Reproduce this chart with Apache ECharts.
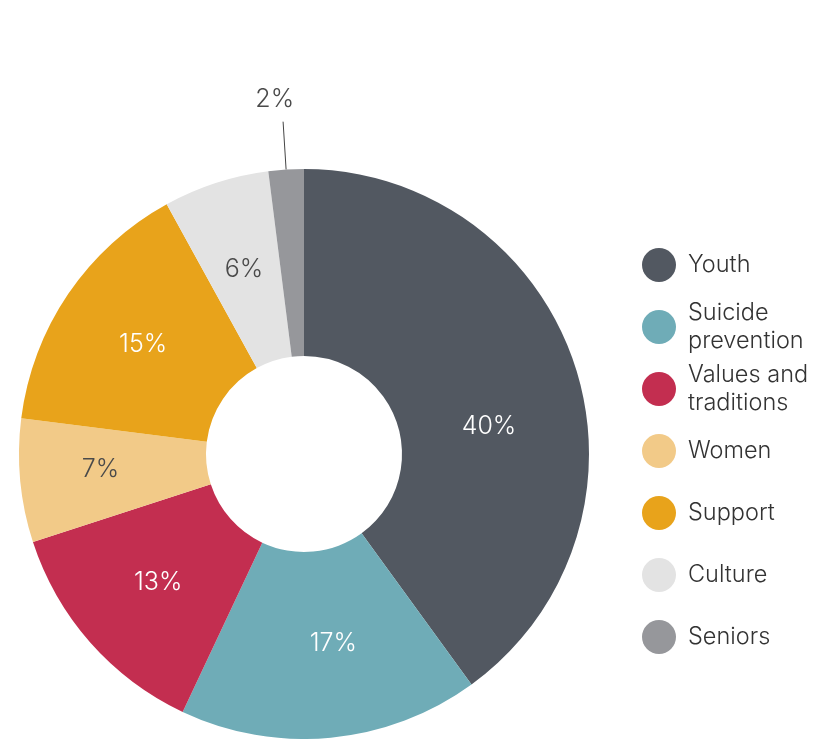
<!DOCTYPE html>
<html>
<head>
<meta charset="utf-8">
<script src="https://cdn.jsdelivr.net/npm/echarts@6/dist/echarts.min.js"></script>
<style>
  html, body { margin: 0; padding: 0; background: #fff; }
  #chart { width: 836px; height: 739px; }
</style>
</head>
<body>
<div id="chart"></div>
<script>
var categories = ['Youth', 'Suicide\nprevention', 'Values and\ntraditions', 'Women', 'Support', 'Culture', 'Seniors']
var values = [40, 17, 13, 7, 15, 6, 2]

var colors = ['#525861', '#6FACB7', '#C32E50', '#F2CA88', '#E8A31B', '#E3E3E3', '#96979B']
var darkText = ['Women', 'Culture', 'Seniors']

var myChart = echarts.init(document.getElementById('chart'))

var pieData = categories.map(function (name, i) {
  var item = {
    name: name,
    value: values[i],
    itemStyle: { color: colors[i] },
    label: { color: darkText.indexOf(name) >= 0 ? '#4a4a4a' : '#ffffff' }
  }
  if (name === 'Seniors') {
    // 小扇区，标签放外面加引线
    item.label.position = 'outside'
    item.labelLine = { show: true, length: 48, length2: 0, lineStyle: { color: '#444', width: 1 } }
  }
  return item
})

var option = {
  animation: false,
  textStyle: { fontFamily: 'Inter, "Noto Sans", sans-serif' },
  legend: {
    orient: 'vertical',
    left: 642,
    top: 238,
    padding: 0,
    icon: 'circle',
    itemWidth: 34,
    itemHeight: 34,
    itemGap: 8,
    selectedMode: false,
    textStyle: {
      fontSize: 23.5,
      fontWeight: 300,
      lineHeight: 28,
      height: 54,
      verticalAlign: 'middle',
      color: '#333',
      padding: [0, 0, 0, 7]
    },
    data: categories
  },
  series: [
    {
      type: 'pie',
      center: [304, 454],
      radius: [98, 285],
      startAngle: 90,
      clockwise: true,
      avoidLabelOverlap: false,
      emphasis: { disabled: true },
      label: {
        show: true,
        position: 'inside',
        formatter: '{c}%',
        fontSize: 25,
        fontWeight: 300
      },
      labelLine: { show: false },
      labelLayout: function (params) {
        if (params.dataIndex === 0) return { dy: 33 }
        if (params.dataIndex === 1) return { dx: 11, dy: -4 }
        if (params.dataIndex === 3) return { dx: -10, dy: -3 }
        if (params.dataIndex === 6) return { dx: 16, dy: -22 }
        return {}
      },
      data: pieData
    }
  ]
}
myChart.setOption(option)
</script>
</body>
</html>
